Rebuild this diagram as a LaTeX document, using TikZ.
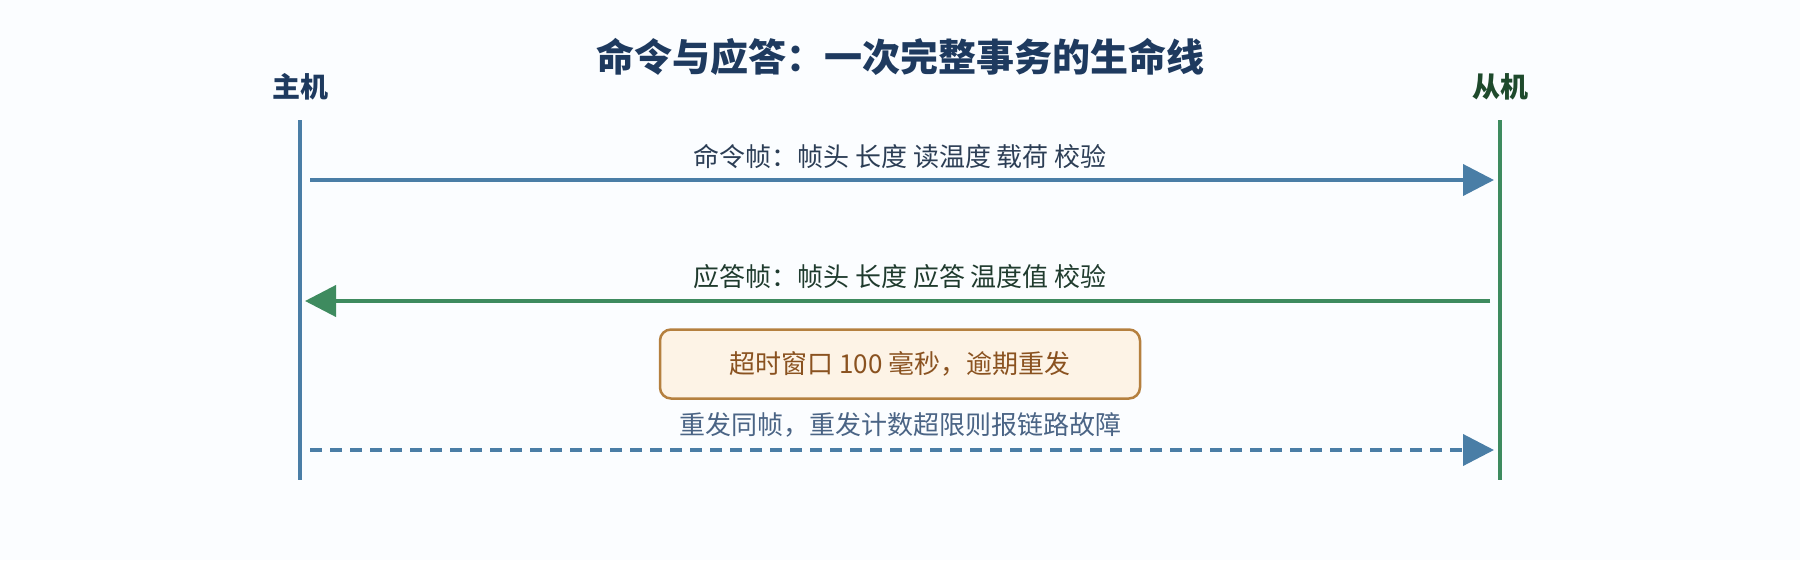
\documentclass[tikz,border=0pt]{standalone}
\usepackage{fontspec}
\setmainfont{Noto Sans CJK SC}
\usetikzlibrary{arrows.meta}
\definecolor{bgc}{HTML}{FBFDFF}
\definecolor{hostc}{HTML}{4A7EA6}
\definecolor{slvc}{HTML}{3E8B5F}
\definecolor{navyc}{HTML}{1E3A5F}
\definecolor{slvtxt}{HTML}{1E4A2C}
\definecolor{cmdtxt}{HTML}{2C3E55}
\definecolor{acktxt}{HTML}{1F3B2E}
\definecolor{rtytxt}{HTML}{4A6485}
\definecolor{boxfill}{HTML}{FDF3E6}
\definecolor{boxline}{HTML}{B5803F}
\definecolor{boxtxt}{HTML}{8A5220}
\tikzset{
  lbl/.style={inner sep=0pt, font=\fontsize{26}{30}\selectfont},
  actor/.style={inner sep=0pt, font=\fontsize{28}{32}\selectfont\bfseries},
  life/.style={line width=4.5pt},
  msg/.style={line width=4pt, -{Triangle[length=31pt,width=31pt]}}
}
\begin{document}
\begin{tikzpicture}[x=1pt,y=-1pt]
\fill[bgc] (0,0) rectangle (1800,560);
\useasboundingbox (0,0) rectangle (1800,560);
% title and actors
\node[inner sep=0pt, font=\fontsize{38}{42}\selectfont\bfseries, text=navyc] (ttl) at (900,57) {命令与应答：一次完整事务的生命线};
\node[actor, text=navyc] (hst) at (300,87) {主机};
\node[actor, text=slvtxt] (slv) at (1500,87) {从机};
% lifelines
\coordinate (h0) at (300,120);
\coordinate (h1) at (300,480);
\coordinate (s0) at (1500,120);
\coordinate (s1) at (1500,480);
\draw[life, hostc] (h0) -- (h1);
\draw[life, slvc] (s0) -- (s1);
% command frame
\coordinate (c0) at (310,180);
\coordinate (c1) at (1494,180);
\draw[msg, hostc] (c0) -- (c1);
\node[lbl, text=cmdtxt] (cmd) at (900,157) {命令帧：帧头 长度 读温度 载荷 校验};
% answer frame
\coordinate (a0) at (1490,301);
\coordinate (a1) at (305,301);
\draw[msg, slvc] (a0) -- (a1);
\node[lbl, text=acktxt] (ack) at (900,277) {应答帧：帧头 长度 应答 温度值 校验};
% timeout
\node[lbl, text=boxtxt, draw=boxline, fill=boxfill, line width=2.5pt, rounded corners=11pt,
  minimum width=480pt, minimum height=69pt] (tmo) at (900,364) {超时窗口 100 毫秒，逾期重发};
% retry
\node[lbl, text=rtytxt] (rty) at (900,425) {重发同帧，重发计数超限则报链路故障};
\coordinate (r0) at (310,450);
\coordinate (r1) at (1494,450);
\draw[msg, hostc, dash pattern=on 12pt off 8pt] (r0) -- (r1);
\end{tikzpicture}
\end{document}
